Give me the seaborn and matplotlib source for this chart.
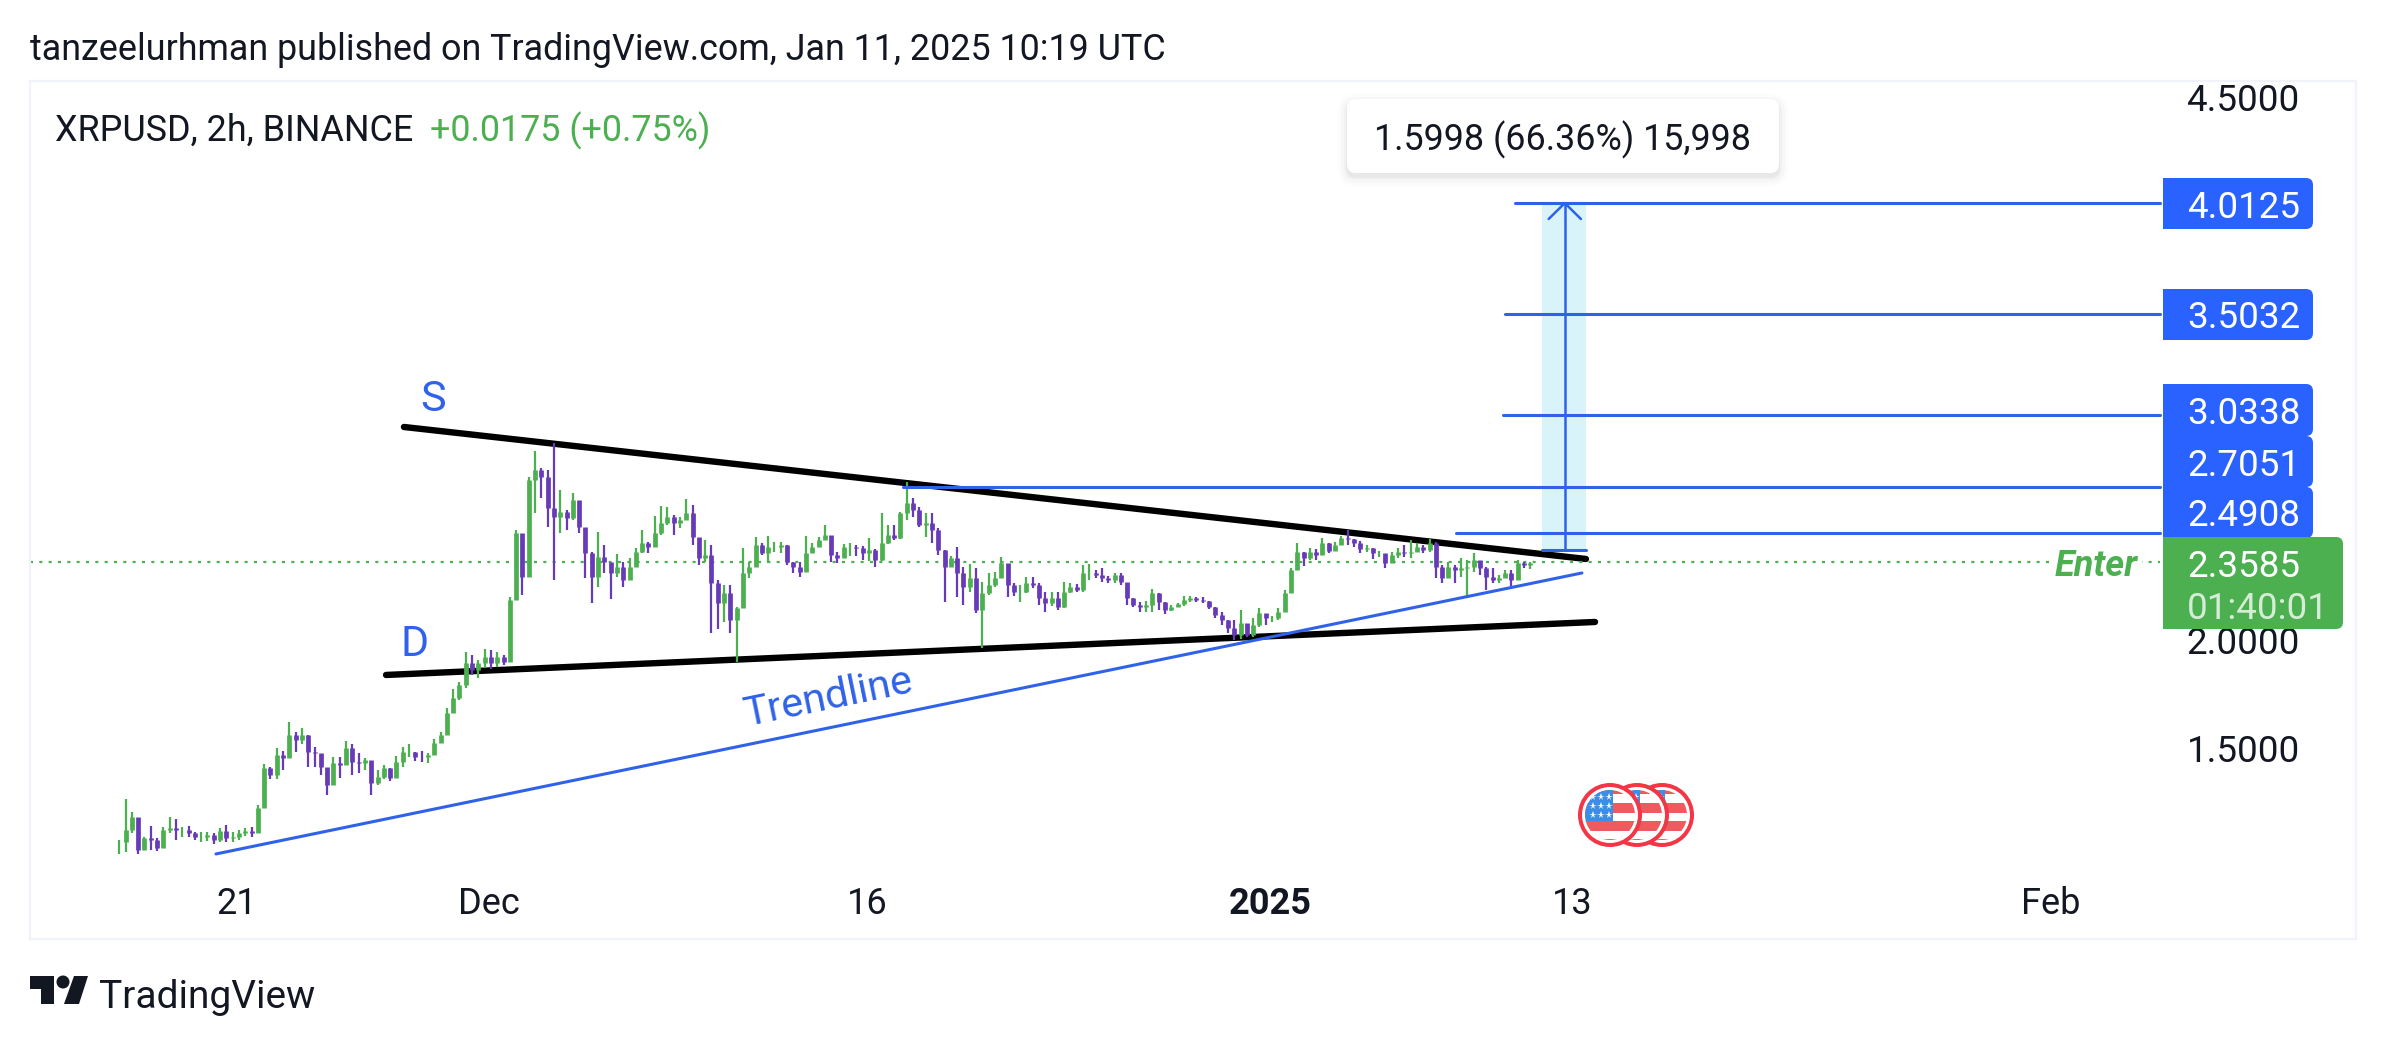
import matplotlib
matplotlib.use("Agg")
import matplotlib.pyplot as plt
import seaborn as sns
import pandas as pd
from matplotlib.patches import Circle, FancyBboxPatch, Polygon, Rectangle
from matplotlib.lines import Line2D
from matplotlib.transforms import Affine2D

# 6h candles
highs = [
    1.077, 1.266, 1.205, 1.108, 1.093, 1.142, 1.085, 1.136, 1.182, 1.173, 1.139, 1.142, 1.116, 1.116, 1.116,
    1.108, 1.131, 1.147, 1.116, 1.124, 1.131, 1.136, 1.239, 1.428, 1.415, 1.500, 1.489, 1.623, 1.577, 1.592,
    1.561, 1.507, 1.461, 1.400, 1.458, 1.458, 1.535, 1.520, 1.477, 1.454, 1.431, 1.400, 1.423, 1.408, 1.465,
    1.504, 1.520, 1.484, 1.489, 1.480, 1.541, 1.577, 1.684, 1.772, 1.807, 1.945, 1.930, 1.907, 1.956,
    1.953, 1.945, 1.930, 2.199, 2.506, 2.460, 2.752, 2.871, 2.790, 2.782, 2.905, 2.690, 2.598, 2.678, 2.629,
    2.475, 2.406, 2.498, 2.437, 2.352, 2.395, 2.360, 2.375, 2.421, 2.506, 2.452, 2.570, 2.617, 2.613, 2.575,
    2.564, 2.647, 2.621, 2.452, 2.460, 2.437, 2.276, 2.253, 2.253, 2.153, 2.421, 2.360, 2.472, 2.444, 2.478,
    2.452, 2.452, 2.437, 2.360, 2.360, 2.478, 2.444, 2.475, 2.529, 2.460, 2.406, 2.441, 2.444, 2.437,
    2.432, 2.468, 2.417, 2.583, 2.529, 2.529, 2.591, 2.729, 2.652, 2.614, 2.583, 2.586, 2.514, 2.414, 2.386,
    2.429, 2.337, 2.349, 2.329, 2.268, 2.309, 2.314, 2.380, 2.345, 2.260, 2.253, 2.288, 2.288, 2.260, 2.222,
    2.222, 2.222, 2.268, 2.263, 2.257, 2.345, 2.349, 2.322, 2.329, 2.294, 2.309, 2.309, 2.260, 2.191, 2.176,
    2.180, 2.233, 2.217, 2.176, 2.160, 2.171, 2.202, 2.202, 2.199, 2.196, 2.180, 2.153, 2.130, 2.091, 2.091,
    2.137, 2.068, 2.099, 2.145, 2.106, 2.110, 2.145, 2.229, 2.329, 2.448, 2.406, 2.421, 2.417, 2.468, 2.444,
    2.452, 2.478, 2.506, 2.463, 2.457, 2.437, 2.421, 2.411, 2.383, 2.406, 2.421, 2.437, 2.460, 2.444, 2.437,
    2.463, 2.452, 2.345, 2.360, 2.345, 2.375, 2.368, 2.398, 2.360, 2.337, 2.329, 2.299, 2.322, 2.322, 2.368,
    2.360, 2.360,
]
lows = [
    1.013, 1.024, 1.108, 1.013, 1.031, 1.031, 1.028, 1.039, 1.108, 1.077, 1.093, 1.093, 1.077, 1.070, 1.074,
    1.059, 1.070, 1.070, 1.070, 1.077, 1.096, 1.093, 1.131, 1.254, 1.357, 1.357, 1.400, 1.458, 1.484, 1.520,
    1.412, 1.415, 1.377, 1.285, 1.331, 1.361, 1.428, 1.377, 1.384, 1.400, 1.285, 1.331, 1.357, 1.351, 1.369,
    1.415, 1.461, 1.443, 1.438, 1.431, 1.474, 1.541, 1.584, 1.676, 1.722, 1.776, 1.838, 1.822, 1.869,
    1.864, 1.873, 1.884, 1.922, 2.283, 2.206, 2.299, 2.583, 2.652, 2.518, 2.276, 2.491, 2.506, 2.552, 2.491,
    2.283, 2.171, 2.245, 2.306, 2.186, 2.291, 2.245, 2.283, 2.337, 2.398, 2.398, 2.429, 2.483, 2.529, 2.483,
    2.514, 2.560, 2.437, 2.345, 2.360, 2.030, 2.048, 2.083, 2.033, 1.899, 2.232, 2.283, 2.337, 2.391, 2.352,
    2.406, 2.398, 2.345, 2.306, 2.288, 2.345, 2.406, 2.429, 2.460, 2.360, 2.355, 2.391, 2.386, 2.386,
    2.368, 2.365, 2.337, 2.365, 2.441, 2.460, 2.463, 2.552, 2.568, 2.521, 2.475, 2.448, 2.391, 2.176, 2.337,
    2.199, 2.160, 2.222, 2.122, 1.961, 2.206, 2.245, 2.291, 2.199, 2.202, 2.176, 2.214, 2.237, 2.160, 2.130,
    2.156, 2.137, 2.145, 2.214, 2.222, 2.222, 2.276, 2.283, 2.268, 2.260, 2.260, 2.252, 2.160, 2.150, 2.130,
    2.130, 2.130, 2.137, 2.119, 2.134, 2.150, 2.156, 2.176, 2.176, 2.168, 2.140, 2.099, 2.068, 2.030, 2.000,
    2.002, 2.011, 2.015, 2.061, 2.068, 2.084, 2.091, 2.130, 2.214, 2.322, 2.340, 2.368, 2.368, 2.391, 2.402,
    2.411, 2.437, 2.437, 2.429, 2.398, 2.406, 2.371, 2.383, 2.329, 2.360, 2.375, 2.383, 2.375, 2.406, 2.398,
    2.406, 2.283, 2.260, 2.299, 2.260, 2.291, 2.202, 2.314, 2.299, 2.229, 2.260, 2.260, 2.283, 2.248, 2.276,
    2.329, 2.325,
]
closes = [
    1.070, 1.124, 1.185, 1.031, 1.085, 1.077, 1.039, 1.124, 1.131, 1.124, 1.124, 1.108, 1.090, 1.093, 1.100,
    1.077, 1.120, 1.085, 1.093, 1.108, 1.120, 1.108, 1.223, 1.408, 1.377, 1.469, 1.454, 1.561, 1.538, 1.561,
    1.484, 1.477, 1.415, 1.331, 1.431, 1.423, 1.500, 1.438, 1.431, 1.446, 1.339, 1.369, 1.408, 1.362, 1.438,
    1.484, 1.484, 1.461, 1.458, 1.469, 1.526, 1.561, 1.661, 1.730, 1.792, 1.892, 1.861, 1.892, 1.922,
    1.891, 1.922, 1.899, 2.183, 2.491, 2.291, 2.736, 2.783, 2.752, 2.606, 2.567, 2.590, 2.560, 2.644, 2.521,
    2.398, 2.291, 2.383, 2.360, 2.306, 2.337, 2.276, 2.337, 2.406, 2.444, 2.429, 2.491, 2.537, 2.567, 2.537,
    2.552, 2.583, 2.475, 2.375, 2.391, 2.260, 2.168, 2.214, 2.092, 2.145, 2.306, 2.337, 2.437, 2.398, 2.429,
    2.429, 2.437, 2.360, 2.337, 2.314, 2.398, 2.429, 2.460, 2.483, 2.391, 2.375, 2.429, 2.429, 2.421,
    2.399, 2.414, 2.368, 2.445, 2.483, 2.468, 2.583, 2.629, 2.598, 2.529, 2.537, 2.506, 2.414, 2.337, 2.375,
    2.306, 2.245, 2.283, 2.137, 2.214, 2.253, 2.283, 2.352, 2.253, 2.222, 2.222, 2.260, 2.253, 2.191, 2.168,
    2.191, 2.153, 2.222, 2.245, 2.230, 2.306, 2.306, 2.299, 2.283, 2.276, 2.299, 2.268, 2.191, 2.160, 2.153,
    2.160, 2.214, 2.176, 2.137, 2.150, 2.165, 2.183, 2.191, 2.183, 2.180, 2.150, 2.114, 2.091, 2.053, 2.022,
    2.076, 2.022, 2.068, 2.122, 2.099, 2.099, 2.130, 2.214, 2.322, 2.406, 2.375, 2.406, 2.391, 2.444, 2.411,
    2.437, 2.467, 2.463, 2.444, 2.417, 2.421, 2.398, 2.398, 2.352, 2.391, 2.406, 2.398, 2.406, 2.429, 2.414,
    2.444, 2.337, 2.283, 2.337, 2.322, 2.329, 2.337, 2.368, 2.329, 2.291, 2.276, 2.283, 2.306, 2.276, 2.352,
    2.345, 2.352,
]

# levels drawn on the chart: price and first day (days from 1 Jan 2025)
level_prices = [4.0125, 3.5032, 3.0338, 2.7051, 2.4908]
level_starts = [9.72, 9.33, 9.25, -14.56, 7.38]
level_labels = ["4.0125", "3.5032", "3.0338", "2.7051", "2.4908"]
level_end = 35.32
last_price = 2.3585
range_low = 2.4127

res_x, res_y = [-34.37, 12.54], [2.9806, 2.3723]
sup_x, sup_y = [-35.08, 12.90], [1.8378, 2.0820]
trend_x, trend_y = [-41.83, 12.38], [1.0129, 2.3078]

x_ticks = [-41, -31, -16, 0, 12, 31]
x_labels = ["21", "Dec", "16", "2025", "13", "Feb"]
y_ticks = [1.5, 2.0, 4.5]
y_labels = ["1.5000", "2.0000", "4.5000"]

GREEN = "#4caf50"
PURPLE = "#673ab7"
BLUE = "#2f62e8"
BADGE = "#2962ff"
DARK = "#131722"
W, H = 2388, 1044

sns.set_theme(style="white")
plt.rcParams["font.family"] = ["Roboto", "DejaVu Sans"]

df = pd.DataFrame({"high": highs, "low": lows, "close": closes})
df["date"] = pd.date_range("2024-11-16 08:00", periods=len(df), freq="6h")
df["day"] = (df["date"] - pd.Timestamp("2025-01-01")) / pd.Timedelta(days=1)
df["open"] = df["close"].shift(1).fillna(df["close"])
df["color"] = [GREEN if c >= o else PURPLE for c, o in zip(df["close"], df["open"])]

fig = plt.figure(figsize=(W / 100, H / 100), dpi=100, facecolor="white")
ax = fig.add_axes([30 / W, 1 - 939 / H, (2356 - 30) / W, (939 - 81) / H])
ax.set_xlim(-49.21, 43.10)
ax.set_ylim(0.621, 4.575)

# pixel space for the badges and other chrome, y pointing down
px = Affine2D().scale(1 / W, -1 / H).translate(0, 1) + fig.transFigure

# resistance and support
for xs, ys in [(res_x, res_y), (sup_x, sup_y)]:
    sns.lineplot(x=xs, y=ys, ax=ax, color="black", lw=4.6, estimator=None, sort=False,
                 solid_capstyle="round", zorder=2)

# range box under the arrow
ax.add_patch(Rectangle((10.79, range_low), 12.54 - 10.79, level_prices[0] - range_low,
                       facecolor="#d8f3f9", edgecolor="none", zorder=1))

ax.vlines(df["day"], df["low"], df["high"], colors=df["color"], lw=1.6, capstyle="butt", zorder=3)
ax.vlines(df["day"], df[["open", "close"]].min(axis=1), df[["open", "close"]].max(axis=1),
          colors=df["color"], lw=3.4, capstyle="butt", zorder=3)

sns.lineplot(x=trend_x, y=trend_y, ax=ax, color=BLUE, lw=2.2, estimator=None, sort=False, zorder=4)
for price, start in zip(level_prices, level_starts):
    sns.lineplot(x=[start, level_end], y=[price, price], ax=ax, color=BLUE, lw=2.2,
                 estimator=None, zorder=4)

# arrow of the range tool
mid = 11.70
sns.lineplot(x=[mid, mid], y=[range_low, level_prices[0]], ax=ax, color=BLUE, lw=1.8, estimator=None,
             sort=False, zorder=4)
sns.lineplot(x=[mid - 0.64, mid, mid + 0.64], y=[3.939, level_prices[0], 3.939], ax=ax, color=BLUE, lw=1.8,
             estimator=None, sort=False, zorder=4)
sns.lineplot(x=[10.79, 12.54], y=[range_low, range_low], ax=ax, color=BLUE, lw=2.2, estimator=None,
             sort=False, zorder=4)

ax.plot([-49.21, level_end], [last_price, last_price], color=GREEN, lw=1.6, ls=(0, (1.35, 2.85)), zorder=2.5)

ax.text(-33.2, 3.107, "S", color=BLUE, fontsize=31, ha="center", va="center")
ax.text(-33.96, 1.98, "D", color=BLUE, fontsize=31, ha="center", va="center")
ax.text(-17.5, 1.735, "Trendline", color=BLUE, fontsize=29.8, rotation=11.6, ha="center", va="center",
        rotation_mode="anchor")
ax.text(32.8, last_price, "Enter", color=GREEN, fontsize=26, fontweight="bold", style="italic",
        ha="center", va="center_baseline", zorder=5,
        bbox=dict(facecolor="white", edgecolor="none", pad=3))

ax.set_xticks(x_ticks)
ax.set_xticklabels(x_labels, fontsize=26, color=DARK)
ax.get_xticklabels()[3].set_fontweight("bold")
ax.set_yticks(y_ticks)
ax.set_yticklabels(y_labels, fontsize=26.5, color=DARK)
ax.tick_params(axis="x", length=0, pad=-38)
ax.tick_params(axis="y", length=0, left=False, labelleft=False, right=False, labelright=True, pad=-122)
for spine in ax.spines.values():
    spine.set_color("#f0f3fa")
    spine.set_linewidth(1.6)


def badge(x0, x1, y0, y1, color):
    # rounded on the right side only
    fig.add_artist(FancyBboxPatch((x0, y0), x1 - x0, y1 - y0, boxstyle="round,pad=0,rounding_size=7",
                                  facecolor=color, edgecolor="none", transform=px, zorder=3))
    fig.add_artist(Rectangle((x0, y0), 12, y1 - y0, facecolor=color, edgecolor="none", transform=px, zorder=3))


badge_spans = [(178, 229), (289, 340), (384, 436), (436, 487), (487, 538)]
for (y0, y1), label in zip(badge_spans, level_labels):
    badge(2163, 2313, y0, y1, BADGE)
    fig.text(2187 / W, 1 - (y0 + y1) / 2 / H, label, color="white", fontsize=26.5, va="center_baseline", zorder=4)

badge(2163, 2343, 537, 629, GREEN)
fig.text(2187 / W, 1 - 563 / H, "2.3585", color="white", fontsize=26.5, va="center_baseline", zorder=4)
fig.text(2187 / W, 1 - 605 / H, "01:40:01", color="#d5edd6", fontsize=26.5, va="center_baseline", zorder=4)

# tooltip with a soft shadow
for grow, alpha in [(9, 0.012), (6, 0.018), (3, 0.025), (1, 0.035)]:
    fig.add_artist(FancyBboxPatch((1347 - grow, 99 + 4 - grow), 432 + 2 * grow, 74 + 2 * grow,
                                  boxstyle="round,pad=0,rounding_size=%d" % (9 + grow), facecolor="black",
                                  alpha=alpha, edgecolor="none", transform=px, zorder=3))
fig.add_artist(FancyBboxPatch((1347, 99), 432, 74, boxstyle="round,pad=0,rounding_size=9",
                              facecolor="white", edgecolor="none", transform=px, zorder=3))
fig.text(1563 / W, 1 - 136 / H, "1.5998 (66.36%) 15,998", color=DARK, fontsize=25.85, ha="center",
         va="center_baseline", zorder=4)

# header and footer
fig.text(30 / W, 1 - 46 / H, "tanzeelurhman published on TradingView.com, Jan 11, 2025 10:19 UTC", color=DARK,
         fontsize=25.8, va="center_baseline")
fig.text(55 / W, 1 - 127 / H, "XRPUSD, 2h, BINANCE", color=DARK, fontsize=25.8, va="center_baseline")
fig.text(430 / W, 1 - 127 / H, "+0.0175 (+0.75%)", color=GREEN, fontsize=25.8, va="center_baseline")
fig.text(99 / W, 1 - 993 / H, "TradingView", color=DARK, fontsize=28, va="center_baseline")

fig.add_artist(Polygon([(30, 976), (54, 976), (54, 1004), (41, 1004), (41, 989), (30, 989)], closed=True,
                       facecolor=DARK, edgecolor="none", transform=px))
fig.add_artist(Circle((63, 982), 6.5, facecolor=DARK, edgecolor="none", transform=px))
fig.add_artist(Polygon([(74, 976), (88, 976), (79, 1004), (64, 1004)], closed=True, facecolor=DARK,
                       edgecolor="none", transform=px))

# US flag event markers, front one last
for cx in [1662, 1637, 1610]:
    fig.add_artist(Circle((cx, 815), 32, facecolor="#f23645", edgecolor="none", transform=px, zorder=3))
    fig.add_artist(Circle((cx, 815), 28, facecolor="white", edgecolor="none", transform=px, zorder=3))
    disc = Circle((cx, 815), 25, facecolor="white", edgecolor="none", transform=px, zorder=3)
    fig.add_artist(disc)
    for top in [784, 803, 821, 839]:
        band = Rectangle((cx - 26, top), 52, 10, facecolor="#f05a5f", edgecolor="none", transform=px, zorder=3)
        fig.add_artist(band)
        band.set_clip_path(disc)
    canton = Rectangle((cx - 26, 788), 29, 33, facecolor="#3d8ce8", edgecolor="none", transform=px, zorder=3)
    fig.add_artist(canton)
    canton.set_clip_path(disc)
    for row in [797, 806, 815]:
        for col in [-17, -9, -1]:
            star = Line2D([cx + col], [row], marker="*", ms=5.5, color="white", mew=0, transform=px, zorder=3)
            fig.add_artist(star)
            star.set_clip_path(disc)

fig.savefig("out.png", dpi=100, facecolor="white")
